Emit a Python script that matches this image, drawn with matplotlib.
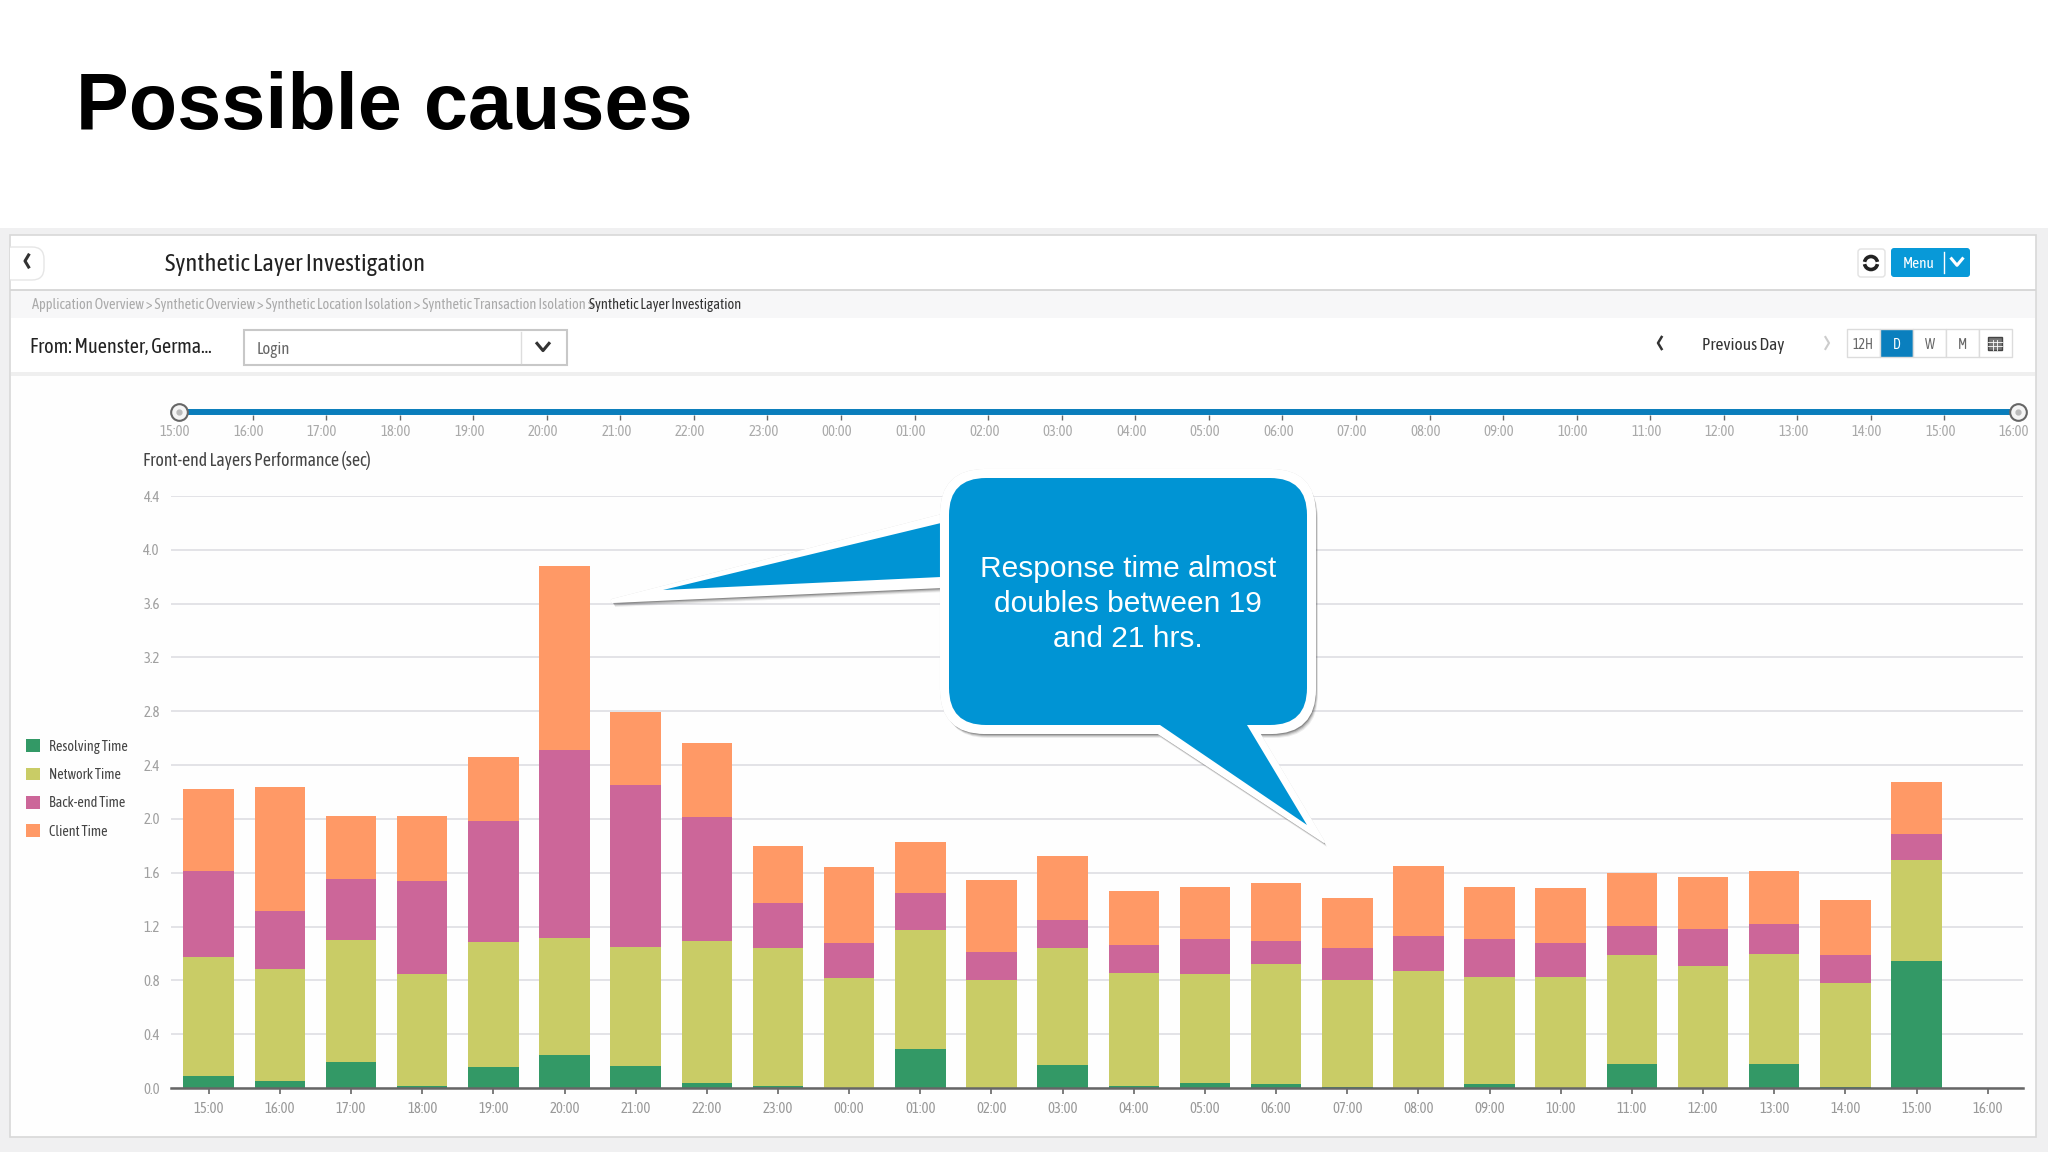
"""
Possible causes slide: stacked response time bars inside a dashboard screenshot
"""
import numpy as np
import matplotlib
matplotlib.use("Agg")
import matplotlib.pyplot as plt
from matplotlib.patches import Rectangle, PathPatch, FancyBboxPatch, Arc
from matplotlib.path import Path
from matplotlib.transforms import Affine2D, ScaledTranslation

W, H = 2048, 1152

hours = ["15:00", "16:00", "17:00", "18:00", "19:00", "20:00", "21:00", "22:00", "23:00",
         "00:00", "01:00", "02:00", "03:00", "04:00", "05:00", "06:00", "07:00", "08:00",
         "09:00", "10:00", "11:00", "12:00", "13:00", "14:00", "15:00", "16:00"]

# last hour on the axis has no bar
resolving_time = [0.092, 0.05, 0.19, 0.017, 0.156, 0.248, 0.166, 0.035, 0.017,
                  0.0, 0.292, 0.0, 0.169, 0.015, 0.035, 0.032, 0.007, 0.0,
                  0.032, 0.0, 0.178, 0.0, 0.178, 0.007, 0.942]
network_time = [0.88, 0.835, 0.908, 0.828, 0.927, 0.867, 0.884, 1.055, 1.023,
                0.818, 0.885, 0.80, 0.869, 0.842, 0.815, 0.892, 0.793, 0.867,
                0.791, 0.825, 0.811, 0.907, 0.818, 0.771, 0.751]
backend_time = [0.642, 0.428, 0.458, 0.695, 0.90, 1.40, 1.205, 0.927, 0.338,
                0.262, 0.27, 0.214, 0.214, 0.204, 0.255, 0.171, 0.238, 0.261,
                0.282, 0.253, 0.213, 0.278, 0.223, 0.211, 0.193]
client_time = [0.612, 0.925, 0.469, 0.485, 0.475, 1.365, 0.54, 0.548, 0.417,
               0.565, 0.384, 0.53, 0.475, 0.404, 0.392, 0.427, 0.377, 0.525,
               0.392, 0.412, 0.396, 0.386, 0.392, 0.411, 0.389]

series_names = ["Resolving Time", "Network Time", "Back-end Time", "Client Time"]
series_colors = ["#339966", "#C9CC66", "#CC6699", "#FF9966"]
y_ticks = [0.0, 0.4, 0.8, 1.2, 1.6, 2.0, 2.4, 2.8, 3.2, 3.6, 4.0, 4.4]

NARROW = ["Asap Condensed", "Lato"]
ARIAL = ["Liberation Sans", "DejaVu Sans"]
BLUE = "#0094D4"


def px_axes(zorder):
    a = fig.add_axes([0, 0, 1, 1], zorder=zorder)
    a.set_xlim(0, W)
    a.set_ylim(H, 0)
    a.axis("off")
    return a


def chevron(a, x, y, size, direction, color="#333333", lw=1.6):
    if direction == "left":
        a.plot([x + size * 0.6, x, x + size * 0.6], [y - size, y, y + size], color=color, lw=lw)
    elif direction == "right":
        a.plot([x - size * 0.6, x, x - size * 0.6], [y - size, y, y + size], color=color, lw=lw)
    else:
        a.plot([x - size, x, x + size], [y - size * 0.6, y + size * 0.6, y - size * 0.6], color=color, lw=lw)


def bubble_path(l, t, r, b, rad, tail):
    # rounded box with the lower tail built into it
    (base_right, tip, base_left) = tail
    verts = [(l + rad, t), (r - rad, t), (r, t), (r, t + rad), (r, b - rad), (r, b), (r - rad, b),
             (base_right, b), tip, (base_left, b), (l + rad, b), (l, b), (l, b - rad),
             (l, t + rad), (l, t), (l + rad, t), (l + rad, t)]
    codes = [Path.MOVETO, Path.LINETO, Path.CURVE3, Path.CURVE3, Path.LINETO, Path.CURVE3, Path.CURVE3,
             Path.LINETO, Path.LINETO, Path.LINETO, Path.LINETO, Path.CURVE3, Path.CURVE3,
             Path.LINETO, Path.CURVE3, Path.CURVE3, Path.CLOSEPOLY]
    return Path(verts, codes)


def add_shadow(a, path):
    a.add_patch(PathPatch(path, fc="none", ec="#555555", lw=1.5, alpha=0.2))
    for d, alpha in [(5, 0.08), (4, 0.12), (3, 0.18), (2, 0.28)]:
        a.add_patch(PathPatch(path.transformed(Affine2D().translate(d * 0.6, d)),
                              fc="#222222", ec="none", alpha=alpha))


fig = plt.figure(figsize=(W / 100, H / 100), dpi=100, facecolor="white")

# dashboard frame
bg = px_axes(0)
bg.add_patch(Rectangle((0, 228), W, H - 228, fc="#F0F0F1", ec="none"))
panel = Rectangle((10, 235), 2026, 902, fc="#FEFEFE", ec="#D8D8D8", lw=1.2)
bg.add_patch(panel)
bg.add_patch(Rectangle((11, 236), 2024, 54, fc="white", ec="none"))
bg.add_patch(Rectangle((11, 290), 2024, 28, fc="#F7F7F8", ec="none"))
bg.plot([11, 2035], [290, 290], color="#D5D5D5", lw=1.3)
bg.add_patch(Rectangle((11, 318), 2024, 54, fc="white", ec="none"))
bg.add_patch(Rectangle((11, 372), 2024, 4, fc="#EFEFEF", ec="none"))

bg.text(76, 108, "Possible causes", family=ARIAL, weight="bold", fontsize=57, color="black", va="center")

back = FancyBboxPatch((0, 247), 44, 33, boxstyle="round,pad=0,rounding_size=12",
                      fc="white", ec="#E6E6E6", lw=1)
bg.add_patch(back)
back.set_clip_path(panel)
chevron(bg, 25, 261, 6, "left", lw=2.2)
bg.text(165, 265, "Synthetic Layer Investigation", family=NARROW, fontsize=17.7, color="#222222", va="center")

bg.text(32, 305, "Application Overview > Synthetic Overview > Synthetic Location Isolation > "
        "Synthetic Transaction Isolation >", family=NARROW, fontsize=10.4, color="#AAAAAA", va="center")
bg.text(589, 305, "Synthetic Layer Investigation", family=NARROW, fontsize=10.4, color="#333333", va="center")

bg.text(30, 347, "From: Muenster, Germa...", family=NARROW, fontsize=14.6, color="#222222", va="center")
bg.add_patch(Rectangle((244, 330), 323, 35, fc="white", ec="#C8C8C8", lw=1.5))
bg.plot([521, 521], [332, 363], color="#DDDDDD", lw=1)
bg.text(257, 349, "Login", family=NARROW, fontsize=12, color="#666666", va="center")
chevron(bg, 543, 347, 6, "down", lw=2.2)

# top right controls
bg.add_patch(FancyBboxPatch((1858, 249), 27, 28, boxstyle="round,pad=0,rounding_size=3",
                            fc="white", ec="#E2E2E2", lw=1))
bg.add_patch(Arc((1871, 263), 13, 13, theta1=10, theta2=170, color="#222222", lw=2.6))
bg.add_patch(Arc((1871, 263), 13, 13, theta1=190, theta2=350, color="#222222", lw=2.6))
bg.add_patch(FancyBboxPatch((1891, 248), 79, 29, boxstyle="round,pad=0,rounding_size=3", fc="#0899D8", ec="none"))
bg.plot([1944, 1944], [252, 273], color="white", lw=1)
bg.text(1919, 264, "Menu", family=NARROW, fontsize=11, color="white", ha="center", va="center")
chevron(bg, 1957, 262, 5.5, "down", color="white", lw=2.2)

chevron(bg, 1658, 343, 6, "left", lw=1.8)
bg.text(1743, 345, "Previous Day", family=NARROW, fontsize=12.5, color="#333333", ha="center", va="center")
chevron(bg, 1829, 343, 6, "right", color="#CCCCCC", lw=1.5)
for i, lab in enumerate(["12H", "D", "W", "M", ""]):
    x0 = 1847 + i * 33
    active = lab == "D"
    bg.add_patch(Rectangle((x0, 329), 33, 28, fc="#0A7FBE" if active else "white", ec="#DCDCDC", lw=1))
    bg.text(x0 + 16.5, 345, lab, family=NARROW, fontsize=10, ha="center", va="center",
            color="white" if active else "#666666")
bg.add_patch(Rectangle((1988, 337), 14, 13, fc="#777777", ec="#444444", lw=1))
for gx in [1992.5, 1997]:
    bg.plot([gx, gx], [340, 350], color="white", lw=0.6)
for gy in [342, 345.5]:
    bg.plot([1988, 2002], [gy, gy], color="white", lw=0.6)

bg.text(143, 461, "Front-end Layers Performance (sec)", family=NARROW, fontsize=12.8, color="#444444", va="center")

# time range slider
slider = fig.add_axes([179 / W, (H - 415) / H, 1839 / W, 6 / H], zorder=2)
slider.set_xlim(0, 25)
slider.set_ylim(-1, 1)
slider.patch.set_alpha(0)
for s in slider.spines.values():
    s.set_visible(False)
slider.plot([0, 25], [0, 0], color="#0A7DBB", lw=4.3, solid_capstyle="butt", clip_on=False)
slider.plot([0, 25], [0, 0], "o", ms=12, mfc="#F5F5F5", mec="#666666", mew=1.5, clip_on=False)
slider.plot([0, 25], [0, 0], "o", ms=3.5, color="#BBBBBB", clip_on=False)
slider.set_yticks([])
slider.set_xticks(range(len(hours)))
slider.set_xticklabels(hours, family=NARROW, fontsize=10.5, color="#AAAAAA")
slider.tick_params(axis="x", length=3.6, width=1, color="#666666", pad=3.5)
# the labels sit a little left of their ticks
shift = ScaledTranslation(-4 / 100, 0, fig.dpi_scale_trans)
for lab in slider.get_xticklabels():
    lab.set_transform(lab.get_transform() + shift)

# stacked bars
ax = fig.add_axes([171 / W, (H - 1088) / H, (2023 - 171) / W, (1088 - 496) / H], zorder=1)
ax.patch.set_alpha(0)
ax.set_xlim((171 - 208.7) / 71.16, (2023 - 208.7) / 71.16)
ax.set_ylim(0, 4.4)
positions = np.arange(len(client_time))
bottom = np.zeros(len(positions))
handles = []
for values, name, color in zip([resolving_time, network_time, backend_time, client_time],
                               series_names, series_colors):
    bars = ax.bar(positions, values, width=0.71, bottom=bottom, color=color, label=name, zorder=3)
    handles.append(bars)
    bottom = bottom + np.array(values)

for s in ["top", "right", "left"]:
    ax.spines[s].set_visible(False)
ax.spines["bottom"].set_color("#666666")
ax.spines["bottom"].set_linewidth(1.8)
ax.spines["bottom"].set_zorder(4)
ax.set_yticks(y_ticks)
ax.set_yticklabels(["%.1f" % t for t in y_ticks], family=NARROW, fontsize=10.5, color="#A0A0A0")
ax.set_xticks(range(len(hours)))
ax.set_xticklabels(hours, family=NARROW, fontsize=10.5, color="#999999")
ax.tick_params(axis="y", length=0, pad=8)
ax.tick_params(axis="x", length=4, width=1.2, color="#666666", pad=6)
ax.grid(axis="y", color="#E3E3E7", lw=1.4)
ax.set_axisbelow(True)

legend = ax.legend(handles, series_names, loc="center left", bbox_to_anchor=(26 / W, (H - 789) / H),
                   bbox_transform=fig.transFigure, frameon=False, handlelength=1,
                   handleheight=1, labelspacing=1.0, handletextpad=0.6, borderpad=0, borderaxespad=0,
                   prop={"family": NARROW, "size": 10.2})
for t in legend.get_texts():
    t.set_color("#444444")

# callout bubble on top of everything
top = px_axes(5)
left_tail_white = Path([(612, 600), (942, 515), (942, 587), (612, 602), (612, 600)],
                       [Path.MOVETO, Path.LINETO, Path.LINETO, Path.LINETO, Path.CLOSEPOLY])
add_shadow(top, left_tail_white)
top.add_patch(PathPatch(left_tail_white, fc="white", ec="white", lw=1.5, joinstyle="round"))
top.add_patch(plt.Polygon([(663, 590), (941, 523), (941, 577)], closed=True, fc=BLUE, ec="none"))

outer = bubble_path(941, 470, 1315, 733, 44, (1259, (1324, 842), 1158))
inner = bubble_path(949, 478, 1307, 725, 37, (1247, (1307, 825), 1160))
add_shadow(top, outer)
top.add_patch(PathPatch(outer, fc="white", ec="white", lw=1.5, joinstyle="round"))
top.add_patch(PathPatch(inner, fc=BLUE, ec="none"))

top.text(1128, 604, "Response time almost\ndoubles between 19\nand 21 hrs.", family=ARIAL, fontsize=21.5,
         color="white", ha="center", va="center", linespacing=1.32)

fig.savefig("out.png", dpi=100, facecolor="white")
